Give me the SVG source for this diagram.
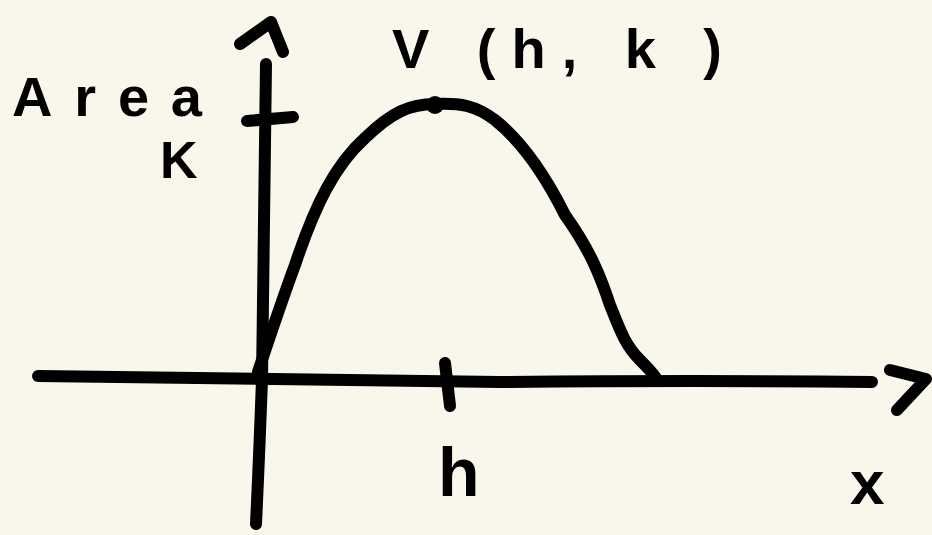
<svg xmlns="http://www.w3.org/2000/svg" width="932" height="535" viewBox="0 0 932 535">
<style>
.ink{fill:none;stroke:#000;stroke-width:12;stroke-linecap:round;stroke-linejoin:round}
.t{font-family:"Liberation Sans","Noto Sans",sans-serif;font-weight:bold;fill:#000}
</style>
<rect width="932" height="535" fill="#f9f7ec"/>
<g id="axes">
<path class="ink" d="M266 64 Q264 200 262 380 Q259 460 256 524"/>
<path class="ink" d="M240 44 L271 22 L283 52"/>
<path class="ink" d="M38 376 Q300 379 500 382 Q700 380 872 382"/>
<path class="ink" d="M890 370 L926 379 L897 410"/>
<path class="ink" d="M247 121 L293 117"/>
<path class="ink" d="M445 363 L450 406"/>
</g>
<g id="curve">
<path class="ink" d="M258 372 C272 330 282 300 295 265 C315 205 335 165 365 138 C392 112 410 104 435 104 C460 103 475 105 495 120 C520 140 545 175 565 215 C590 250 600 275 610 305 C620 330 625 345 640 360 C648 368 652 372 656 378"/>
<circle cx="435" cy="105" r="9" fill="#000"/>
</g>
<g id="labels">
<text class="t" x="12" y="116" font-size="56" textLength="190" lengthAdjust="spacing">Area</text>
<text class="t" x="160" y="178" font-size="52">K</text>
<text class="t" x="392" y="68" font-size="56" textLength="330" lengthAdjust="spacing">V (h, k )</text>
<text class="t" x="438" y="496" font-size="68">h</text>
<text class="t" x="850" y="504" font-size="62">x</text>
</g>
</svg>
